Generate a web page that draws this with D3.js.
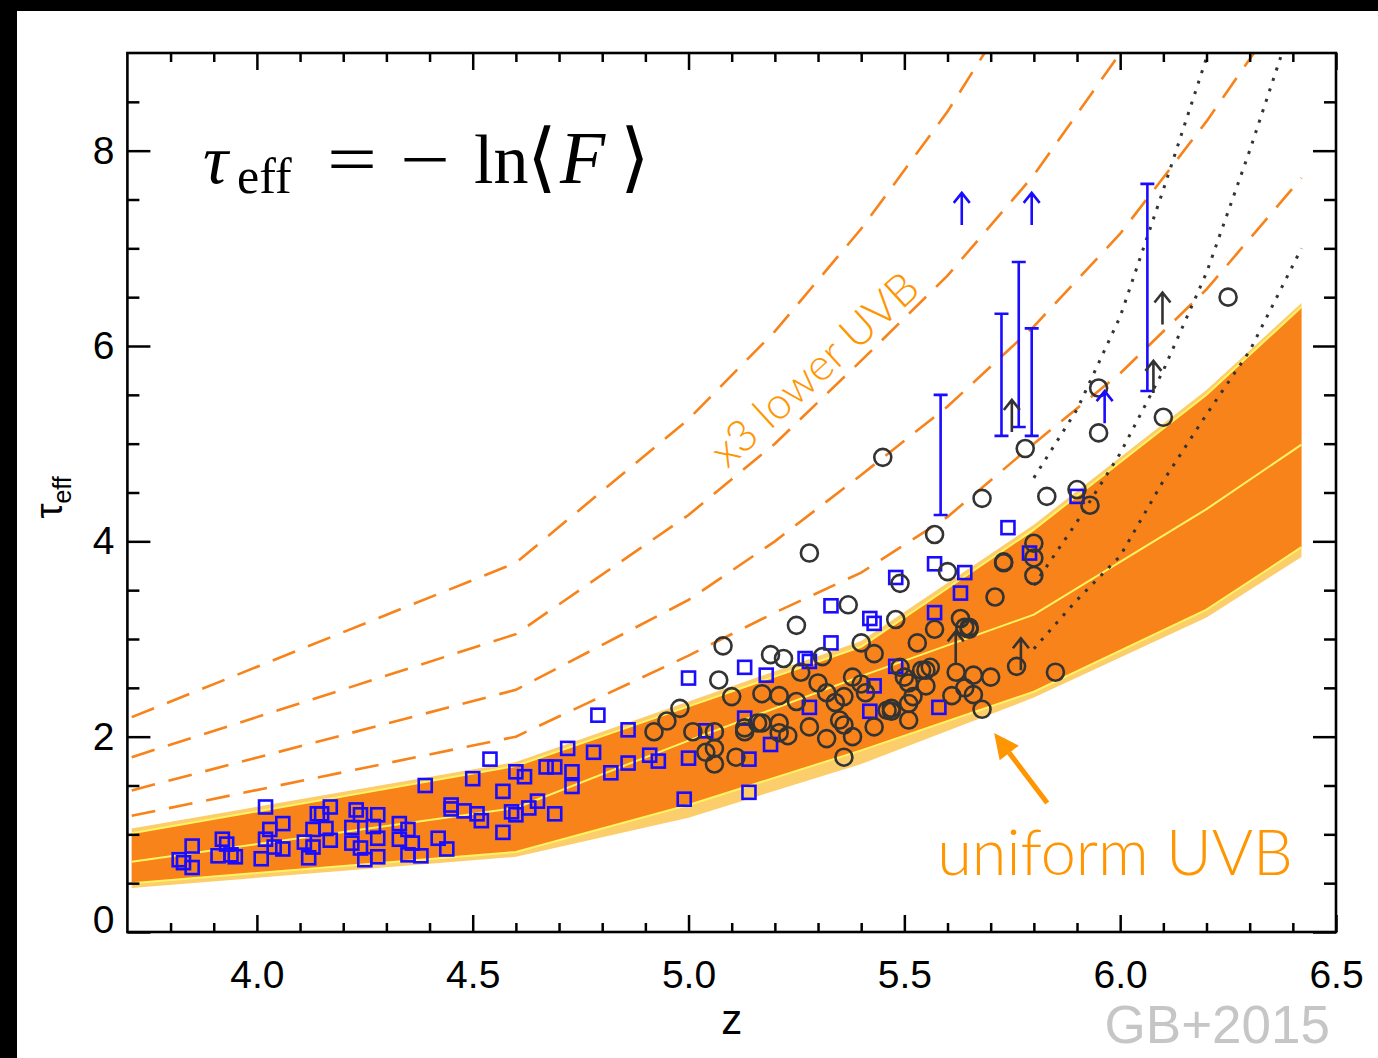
<!DOCTYPE html>
<meta charset="utf-8">
<script src="https://cdn.jsdelivr.net/npm/d3@7"></script>
<style>
body { margin: 0; background: #000; }
text { font-family: "Liberation Sans", Arial, Helvetica, sans-serif; }
.tick line { stroke: #000; stroke-width: 2.5px; }
.tick text { font-size: 39px; fill: #000; }
.formula { font-family: "Liberation Serif", "DejaVu Serif", serif; font-size: 70px; }
</style>
<body>
<script>

// uniform UVB model band (z, tau_eff)
var bandZ    = [3.71, 4.6, 5.0, 5.4, 5.8, 6.2, 6.42];
var lightTop = [1.06, 1.74, 2.36, 2.98, 4.17, 5.55, 6.44];
var darkTop  = [1.01, 1.70, 2.31, 2.92, 4.12, 5.50, 6.40];
var midLine  = [0.72, 1.27, 1.96, 2.62, 3.25, 4.33, 4.99];
var darkBot  = [0.50, 0.82, 1.30, 1.86, 2.46, 3.30, 3.94];
var lightBot = [0.45, 0.77, 1.17, 1.72, 2.40, 3.22, 3.84];

// dashed model curves
var dashZ = [3.71, 4.6, 5.0, 5.2, 5.4, 5.6, 5.8, 6.0, 6.2, 6.42];
var dash1 = [2.20, 3.78, 5.25, 6.15, 7.20, 8.40, 9.80];
var dash2 = [1.79, 3.05, 4.27, 5.00, 5.85, 6.72, 7.75, 9.00];
var dash3 = [1.45, 2.48, 3.40, 4.00, 4.68, 5.38, 6.20, 7.15, 8.30, 9.70];
var dash4 = [1.19, 2.00, 2.83, 3.27, 3.68, 4.25, 5.00, 5.72, 6.58, 7.72];

// dotted curves
var dotZ = [5.8, 5.9, 6.0, 6.1, 6.2, 6.3, 6.42];
var dotA = [4.65, 5.35, 6.30, 7.60, 8.95, 10.3];
var dotB = [3.55, 4.20, 4.90, 5.75, 6.75, 8.00, 9.60];
var dotC = [2.90, 3.40, 3.85, 4.62, 5.30, 5.95, 7.00];

// blue squares
var sqZ = [3.82,3.83,3.85,3.85,3.92,3.93,3.91,3.94,3.95,4.03,
  4.02,4.04,4.06,4.06,4.01,4.02,4.11,4.13,4.13,4.12,
  4.14,4.15,4.17,4.16,4.17,4.22,4.22,4.23,4.24,4.24,
  4.25,4.28,4.27,4.28,4.28,4.33,4.35,4.33,4.36,4.35,
  4.38,4.39,4.42,4.44,4.45,4.45,4.48,4.50,4.51,4.52,
  4.54,4.57,4.57,4.59,4.60,4.60,4.62,4.63,4.65,4.67,
  4.69,4.69,4.72,4.73,4.73,4.78,4.79,4.82,4.86,4.86,
  4.91,4.93,5.00,5.00,4.99,5.04,5.13,5.13,5.14,5.14,
  5.18,5.19,5.27,5.28,5.28,5.33,5.33,5.42,5.43,5.42,
  5.43,5.48,5.48,5.57,5.57,5.58,5.64,5.63,5.74,5.90,5.79];
var sqTau = [0.74,0.71,0.88,0.66,0.95,0.90,0.78,0.79,0.77,1.05,
  0.95,0.87,1.11,0.85,0.75,1.28,0.92,1.05,0.87,0.76,
  1.21,1.21,1.28,1.06,0.94,1.07,0.91,1.25,1.20,0.86,
  0.74,1.20,1.08,0.96,0.77,1.11,1.05,0.95,0.91,0.79,
  0.78,1.50,0.96,0.85,1.30,1.26,1.24,1.57,1.21,1.14,
  1.77,1.44,1.02,1.23,1.20,1.64,1.59,1.27,1.34,1.69,
  1.69,1.21,1.88,1.64,1.49,1.84,2.22,1.63,2.07,1.73,
  1.81,1.75,2.60,1.78,1.36,2.06,2.71,2.19,1.43,1.77,
  2.63,1.92,2.80,2.77,2.30,2.96,3.34,3.21,3.16,2.26,
  2.52,3.63,2.72,3.77,3.27,2.30,3.68,3.47,4.14,4.46,3.88];

// dark circles
var circZ = [4.92,4.95,4.98,5.01,5.06,5.04,5.06,5.06,5.07,5.08,
  5.10,5.11,5.13,5.13,5.16,5.17,5.17,5.19,5.21,5.21,
  5.22,5.21,5.23,5.25,5.25,5.26,5.28,5.28,5.30,5.31,
  5.32,5.32,5.34,5.36,5.35,5.36,5.38,5.36,5.37,5.38,
  5.40,5.40,5.41,5.43,5.43,5.48,5.46,5.47,5.47,5.49,
  5.51,5.51,5.52,5.50,5.51,5.49,5.53,5.54,5.55,5.55,
  5.56,5.57,5.60,5.61,5.62,5.63,5.64,5.65,5.65,5.66,
  5.66,5.68,5.70,5.71,5.73,5.76,5.80,5.85,5.64,6.25,
  6.10,5.95,5.95,5.78,5.83,5.90,5.93,5.80,5.80,5.73,
  5.45,5.68,5.57];
var circTau = [2.05,2.16,2.29,2.05,2.05,1.84,1.88,1.72,2.58,2.93,
  2.41,1.79,2.05,2.09,2.14,2.14,2.44,2.84,2.42,2.14,
  2.80,2.04,2.01,2.36,3.14,2.66,2.10,3.88,2.55,2.82,
  2.45,1.98,2.35,2.41,2.17,2.12,2.00,1.79,3.35,2.61,
  2.54,2.96,2.45,2.85,2.10,3.20,2.27,2.29,2.26,3.57,
  2.17,2.34,2.41,2.61,2.55,2.71,2.96,2.68,2.52,2.68,
  2.71,3.10,3.69,2.42,2.66,3.21,3.12,3.10,3.12,2.63,
  2.43,2.28,2.61,3.43,3.78,2.72,3.65,2.66,2.50,6.50,
  5.27,5.57,5.11,4.95,4.46,4.53,4.37,3.98,3.83,3.79,
  4.86,4.44,4.07];

// blue error bars
var errZ  = [5.584, 5.725, 5.765, 5.795, 6.063];
var errLo = [4.27, 5.08, 5.17, 5.08, 5.54];
var errHi = [5.50, 6.33, 6.86, 6.18, 7.66];

// lower limits
var blueLimZ   = [5.633, 5.795, 5.964];
var blueLimTau = [7.24, 7.24, 5.21];
var greyLimZ   = [5.619, 5.749, 5.770, 6.077, 6.098];
var greyLimTau = [2.75, 5.12, 2.68, 5.52, 6.22];

var xMajor = [4.0, 4.5, 5.0, 5.5, 6.0, 6.5];
var yMajor = [0, 2, 4, 6, 8];

var width = 1378,
    height = 1058;

var svg = d3.select("body").append("svg")
    .attr("width", width)
    .attr("height", height)
    .style("display", "block");

svg.append("rect").attr("width", width).attr("height", height).attr("fill", "#000");
svg.append("rect").attr("x", 17).attr("y", 11)
    .attr("width", width - 17).attr("height", height - 11).attr("fill", "#fff");

var x = d3.scaleLinear().domain([3.7, 6.5]).range([127.4, 1336]);
var y = d3.scaleLinear().domain([0, 9]).range([932, 53]);

svg.append("clipPath").attr("id", "plotclip")
  .append("rect")
    .attr("x", x(3.7)).attr("y", y(9))
    .attr("width", x(6.5) - x(3.7)).attr("height", y(0) - y(9));

var plot = svg.append("g").attr("clip-path", "url(#plotclip)");

function zipped(zs, ts) {
  var n = Math.min(zs.length, ts.length), out = [];
  for (var i = 0; i < n; i++) out.push([zs[i], ts[i]]);
  return out;
}

var line = d3.line().x(function(d) { return x(d[0]); }).y(function(d) { return y(d[1]); });

function band(lo, hi) {
  return d3.area()
      .x(function(d, i) { return x(bandZ[i]); })
      .y0(function(d, i) { return y(lo[i]); })
      .y1(function(d, i) { return y(hi[i]); })(bandZ);
}

// model band
plot.append("path").attr("d", band(lightBot, lightTop)).attr("fill", "#fccd6b");
plot.append("path").attr("d", band(darkBot, darkTop)).attr("fill", "#f7831a");
[darkTop, midLine, darkBot].forEach(function(arr) {
  plot.append("path")
      .attr("d", line(zipped(bandZ, arr)))
      .attr("fill", "none")
      .attr("stroke", "#fff461")
      .attr("stroke-width", 2);
});

// dashed curves
[dash1, dash2, dash3, dash4].forEach(function(arr) {
  plot.append("path")
      .attr("d", line(zipped(dashZ, arr)))
      .attr("fill", "none")
      .attr("stroke", "#f7831a")
      .attr("stroke-width", 2.6)
      .style("stroke-dasharray", "24,14");
});

// dotted curves
[dotA, dotB, dotC].forEach(function(arr) {
  plot.append("path")
      .attr("d", line(zipped(dotZ, arr)))
      .attr("fill", "none")
      .attr("stroke", "#333")
      .attr("stroke-width", 3)
      .style("stroke-dasharray", "3,8");
});

// squares
var sq = 13;
plot.append("g").selectAll("rect")
    .data(zipped(sqZ, sqTau))
    .enter().append("rect")
    .attr("x", function(d) { return x(d[0]) - sq / 2; })
    .attr("y", function(d) { return y(d[1]) - sq / 2; })
    .attr("width", sq).attr("height", sq)
    .attr("fill", "none")
    .attr("stroke", "#1a0dff")
    .attr("stroke-width", 2.6);

// circles
plot.append("g").selectAll("circle")
    .data(zipped(circZ, circTau))
    .enter().append("circle")
    .attr("cx", function(d) { return x(d[0]); })
    .attr("cy", function(d) { return y(d[1]); })
    .attr("r", 8.5)
    .attr("fill", "none")
    .attr("stroke", "#333")
    .attr("stroke-width", 2.6);

// error bars
var errs = errZ.map(function(z, i) { return {z: z, lo: errLo[i], hi: errHi[i]}; });
plot.append("g").selectAll("path")
    .data(errs)
    .enter().append("path")
    .attr("d", function(d) {
      var cx = x(d.z), y0 = y(d.lo), y1 = y(d.hi), w = 7;
      return "M" + cx + "," + y0 + "V" + y1 +
             "M" + (cx - w) + "," + y1 + "H" + (cx + w) +
             "M" + (cx - w) + "," + y0 + "H" + (cx + w);
    })
    .attr("fill", "none")
    .attr("stroke", "#1a0dff")
    .attr("stroke-width", 2.6);

// lower-limit arrows
function arrow(d) {
  var cx = x(d[0]), yb = y(d[1]), yt = yb - 32;
  return "M" + cx + "," + yb + "V" + yt +
         "M" + (cx - 8) + "," + (yt + 10) + "L" + cx + "," + yt + "L" + (cx + 8) + "," + (yt + 10);
}
plot.append("g").selectAll("path")
    .data(zipped(blueLimZ, blueLimTau))
    .enter().append("path")
    .attr("d", arrow)
    .attr("fill", "none")
    .attr("stroke", "#1a0dff")
    .attr("stroke-width", 2.6);
plot.append("g").selectAll("path")
    .data(zipped(greyLimZ, greyLimTau))
    .enter().append("path")
    .attr("d", arrow)
    .attr("fill", "none")
    .attr("stroke", "#333")
    .attr("stroke-width", 2.6);

// axes
function styleAxis(g) {
  g.select(".domain").remove();
}
var xMinor = d3.range(38, 65).filter(function(i) { return i % 5 !== 0; }).map(function(i) { return i / 10; });
var yMinor = d3.range(1, 18).filter(function(i) { return i % 4 !== 0; }).map(function(i) { return i / 2; });

svg.append("g").attr("transform", "translate(0," + y(0) + ")")
    .call(d3.axisBottom(x).tickValues(xMajor).tickSize(-17).tickPadding(28).tickFormat(d3.format(".1f")))
    .call(styleAxis);
svg.append("g").attr("transform", "translate(0," + y(0) + ")")
    .call(d3.axisBottom(x).tickValues(xMinor).tickSize(-9).tickFormat(""))
    .call(styleAxis);
svg.append("g").attr("transform", "translate(0," + y(9) + ")")
    .call(d3.axisTop(x).tickValues(xMajor).tickSize(-17).tickFormat(""))
    .call(styleAxis);
svg.append("g").attr("transform", "translate(0," + y(9) + ")")
    .call(d3.axisTop(x).tickValues(xMinor).tickSize(-9).tickFormat(""))
    .call(styleAxis);

var yAxisG = svg.append("g").attr("transform", "translate(" + x(3.7) + ",0)")
    .call(d3.axisLeft(y).tickValues(yMajor).tickSize(-23).tickPadding(13).tickFormat(d3.format("d")))
    .call(styleAxis);
yAxisG.selectAll(".tick text").filter(function(d) { return d === 0; }).attr("dy", "0.0em");
svg.append("g").attr("transform", "translate(" + x(3.7) + ",0)")
    .call(d3.axisLeft(y).tickValues(yMinor).tickSize(-12).tickFormat(""))
    .call(styleAxis);
svg.append("g").attr("transform", "translate(" + x(6.5) + ",0)")
    .call(d3.axisRight(y).tickValues(yMajor).tickSize(-23).tickFormat(""))
    .call(styleAxis);
svg.append("g").attr("transform", "translate(" + x(6.5) + ",0)")
    .call(d3.axisRight(y).tickValues(yMinor).tickSize(-12).tickFormat(""))
    .call(styleAxis);

svg.selectAll(".tick text").attr("font-family", "Liberation Sans, Arial, sans-serif");

svg.append("rect")
    .attr("x", x(3.7)).attr("y", y(9))
    .attr("width", x(6.5) - x(3.7)).attr("height", y(0) - y(9))
    .attr("fill", "none").attr("stroke", "#000").attr("stroke-width", 2.6);

// axis titles
svg.append("text")
    .attr("x", (x(3.7) + x(6.5)) / 2).attr("y", 1034)
    .attr("text-anchor", "middle")
    .style("font-size", "42px")
    .text("z");

var ylab = svg.append("text")
    .attr("transform", "translate(62," + y(4.45) + ") rotate(-90)")
    .attr("text-anchor", "middle")
    .style("font-size", "38px");
ylab.append("tspan").text("τ");
ylab.append("tspan").attr("dy", 9).style("font-size", "25px").text("eff");

// formula, laid out piece by piece
var fy = 183;
var tauT = svg.append("text").attr("class", "formula").attr("x", 203).attr("y", fy);
tauT.append("tspan").style("font-style", "italic").text("τ");
tauT.append("tspan").attr("x", 237).attr("dy", 10).style("font-size", "50px").text("eff");
svg.append("text").attr("class", "formula")
    .attr("x", 327).attr("y", fy)
    .attr("textLength", 50).attr("lengthAdjust", "spacingAndGlyphs")
    .text("=");
svg.append("text").attr("class", "formula")
    .attr("x", 400).attr("y", fy)
    .attr("textLength", 50).attr("lengthAdjust", "spacingAndGlyphs")
    .text("−");
svg.append("text").attr("class", "formula")
    .attr("x", 474).attr("y", fy)
    .text("ln");
svg.append("text").attr("class", "formula")
    .attr("x", 527).attr("y", fy)
    .style("font-family", "DejaVu Serif, serif").style("font-size", "76px")
    .text("⟨");
svg.append("text").attr("class", "formula")
    .attr("x", 560).attr("y", fy)
    .style("font-style", "italic").style("font-size", "74px")
    .text("F");
svg.append("text").attr("class", "formula")
    .attr("x", 620).attr("y", fy)
    .style("font-family", "DejaVu Serif, serif").style("font-size", "76px")
    .text("⟩");

// annotations
svg.append("text")
    .attr("transform", "translate(" + (x(5.303) - 5) + "," + (y(5.70) - 6) + ") rotate(-42.4)")
    .attr("text-anchor", "middle")
    .attr("dy", "0.35em")
    .style("font-family", "Lato, 'Open Sans', sans-serif")
    .style("font-weight", 300)
    .style("font-size", "44px")
    .attr("fill", "#ff9500")
    .text("x3 lower UVB");

svg.append("text")
    .attr("x", x(5.576)).attr("y", y(0.58))
    .style("font-family", "Lato, 'Open Sans', sans-serif")
    .style("font-weight", 300)
    .style("font-size", "63px")
    .attr("fill", "#ff9500")
    .text("uniform UVB");

var a0 = [x(5.831), y(1.321)], a1 = [x(5.708), y(2.038)];
var ux = a1[0] - a0[0], uy = a1[1] - a0[1], ul = Math.sqrt(ux * ux + uy * uy);
ux /= ul; uy /= ul;
var hb = [a1[0] - 25 * ux, a1[1] - 25 * uy];
svg.append("line")
    .attr("x1", a0[0]).attr("y1", a0[1])
    .attr("x2", hb[0]).attr("y2", hb[1])
    .attr("stroke", "#ff9500").attr("stroke-width", 5);
svg.append("path")
    .attr("d", "M" + a1[0] + "," + a1[1] +
               "L" + (hb[0] - 12 * uy) + "," + (hb[1] + 12 * ux) +
               "L" + (hb[0] + 12 * uy) + "," + (hb[1] - 12 * ux) + "Z")
    .attr("fill", "#ff9500");

svg.append("text")
    .attr("x", 1330).attr("y", 1043)
    .attr("text-anchor", "end")
    .style("font-size", "53px")
    .attr("fill", "#c6c6c6")
    .text("GB+2015");

</script>
</body>
